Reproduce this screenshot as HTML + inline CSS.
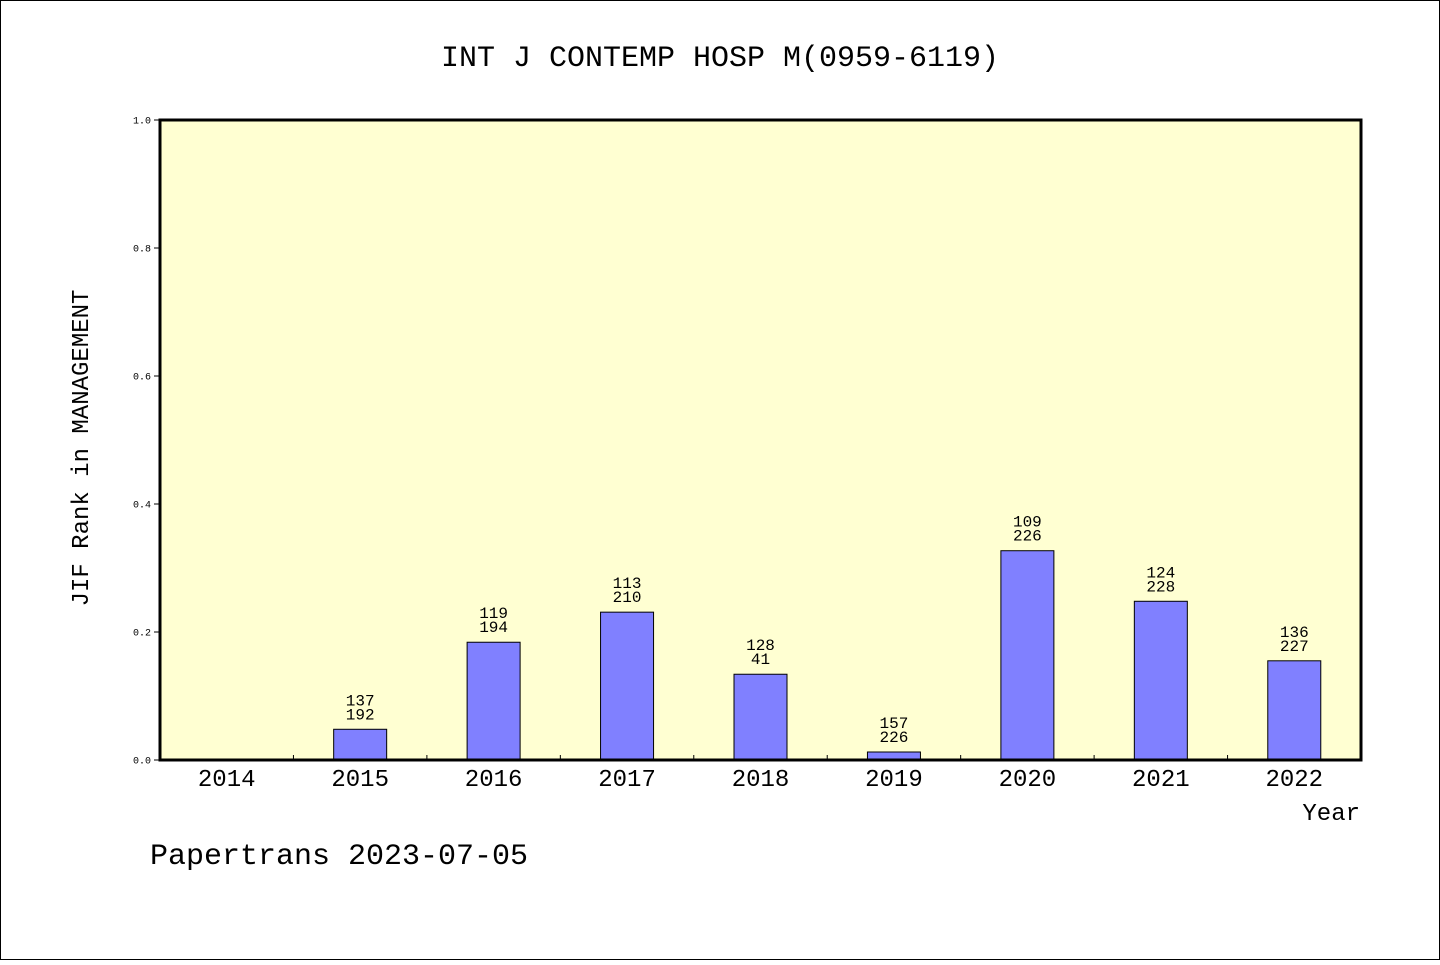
<!DOCTYPE html>
<html><head><meta charset="utf-8"><style>
html,body{margin:0;padding:0;background:#fff}
svg text{font-family:"Liberation Mono","WenQuanYi Zen Hei",monospace;fill:#000}
</style></head><body>
<svg width="1440" height="960" viewBox="0 0 1440 960" xmlns="http://www.w3.org/2000/svg">
<rect x="0.5" y="0.5" width="1439" height="959" fill="#fff" stroke="#000"/>
<text x="720" y="66" font-size="30" text-anchor="middle">INT J CONTEMP HOSP M(0959-6119)</text>
<rect x="160" y="120" width="1201" height="640" fill="#ffffd2"/>
<g id="bars"></g>
<rect x="160" y="120" width="1201" height="640" fill="none" stroke="#000" stroke-width="3"/>
<g id="axes"></g>
<text x="1360" y="820" font-size="24" text-anchor="end">Year</text>
<text transform="translate(88,448) rotate(-90)" font-size="24" text-anchor="middle">JIF Rank in MANAGEMENT</text>
<text x="150" y="864" font-size="30">Papertrans 2023-07-05</text>
</svg>
<script>
const years=["2014","2015","2016","2017","2018","2019","2020","2021","2022"];
const values=[null,0.048,0.184,0.231,0.134,0.0125,0.327,0.248,0.155];
const ranks=[null,"137","119","113","128","157","109","124","136"];
const totals=[null,"192","194","210","41","226","226","228","227"];
const yTicks=["0.0","0.2","0.4","0.6","0.8","1.0"];
const NS="http://www.w3.org/2000/svg";
const X0=160,X1=1361,Y0=760,Y1=120;
const step=(X1-X0)/years.length;
const xc=i=>X0+step*(i+0.5);
const y=v=>Y0-(Y0-Y1)*v;
function mk(t,a,p){const e=document.createElementNS(NS,t);for(const k in a)e.setAttribute(k,a[k]);p.appendChild(e);return e;}
const bars=document.getElementById('bars'),axes=document.getElementById('axes');
years.forEach((yr,i)=>{
  const lab=mk('text',{x:xc(i),y:786,'font-size':24,'text-anchor':'middle'},axes);
  lab.textContent=yr;
  
  
  if(i>0){const t=mk('line',{x1:X0+step*i,x2:X0+step*i,y1:Y0,y2:Y0-5,stroke:'#000'},axes);
    
    }
  const v=values[i];
  if(v==null)return;
  const r=mk('rect',{x:xc(i)-26.5,y:y(v),width:53,height:Y0-y(v),fill:'#8080ff',stroke:'#000','stroke-width':1},bars);
  
  
  const t1=mk('text',{x:xc(i),y:y(v)-24,'font-size':16,'text-anchor':'middle'},bars);
  t1.textContent=ranks[i];
  
  
  const t2=mk('text',{x:xc(i),y:y(v)-10,'font-size':16,'text-anchor':'middle'},bars);
  t2.textContent=totals[i];
  
  
});
yTicks.forEach(s=>{
  const v=parseFloat(s);
  const l=mk('line',{x1:154,x2:160,y1:y(v),y2:y(v),stroke:'#000'},axes);
  
  
  const t=mk('text',{x:151,y:y(v)+3.5,'font-size':10,'text-anchor':'end'},axes);
  t.textContent=s;
  
  
});
</script>
</body></html>
